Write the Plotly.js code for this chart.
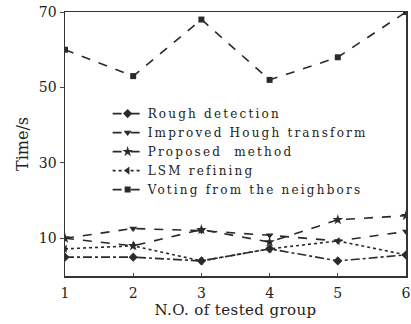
<!DOCTYPE html>
<html>
<head>
<meta charset="utf-8">
<script src="https://cdn.plot.ly/plotly-3.0.1.min.js"></script>
<style>
html,body{margin:0;padding:0;background:#fff;}
#chart{width:411px;height:324px;}
.legendtext{letter-spacing:2.2px;}
.xtitle{letter-spacing:0.4px;}
</style>
</head>
<body>
<div id="chart"></div>
<script>
const groups = [1, 2, 3, 4, 5, 6];
const roughDetection = [5, 5, 4, 7.2, 4, 5.6];
const improvedHough = [10, 12.6, 12, 10.8, 9.3, 11.8];
const proposedMethod = [10, 8, 12.3, 9, 14.9, 16];
const lsmRefining = [7.2, 8, 4, 7.2, 9.3, 5.6];
const votingNeighbors = [60, 53, 68, 52, 58, 70];
const yTickVals = [10, 30, 50, 70];
const seriesNames = ["Rough detection", "Improved Hough transform", "Proposed  method", "LSM refining", "Voting from the neighbors"];

const ink = '#2a2a2a';
function tr(name, y, dash, symbol, size) {
  return {
    x: groups, y: y, name: name, type: 'scatter', mode: 'lines+markers',
    line: {color: ink, width: 1.6, dash: dash},
    marker: {color: ink, symbol: symbol, size: size}
  };
}
const data = [
  tr(seriesNames[0], roughDetection, 'dashdot', 'diamond', 7),
  tr(seriesNames[1], improvedHough, 'dash', 'triangle-down', 7),
  tr(seriesNames[2], proposedMethod, 'dash', 'star', 8),
  tr(seriesNames[3], lsmRefining, 'dot', 'triangle-left', 7),
  tr(seriesNames[4], votingNeighbors, 'dash', 'square', 6)
];
const serif = '"DejaVu Serif", "Liberation Serif", serif';
const layout = {
  width: 411, height: 324,
  margin: {l: 65, r: 5, t: 12, b: 48},
  paper_bgcolor: '#fff', plot_bgcolor: '#fff',
  font: {family: serif, color: '#222', size: 14},
  showlegend: true,
  legend: {x: 0.125, y: 0.67, xanchor: 'left', yanchor: 'top',
           bgcolor: 'rgba(0,0,0,0)', font: {family: serif, size: 12, color: '#222'},
           itemwidth: 30, tracegroupgap: 0},
  xaxis: {range: [1, 6], tickvals: groups, ticks: 'inside', ticklen: 3,
          showline: true, mirror: true, linecolor: '#333', linewidth: 1.5,
          showgrid: false, zeroline: false, ticklabelstandoff: 4,
          tickfont: {family: serif, size: 14, color: '#222'},
          title: {text: 'N.O. of tested group', font: {family: serif, size: 15, color: '#222'}, standoff: 2}},
  yaxis: {range: [0, 70], tickvals: yTickVals, ticks: 'outside', ticklen: 4,
          showline: true, mirror: true, linecolor: '#333', linewidth: 1.5,
          showgrid: false, zeroline: false,
          tickfont: {family: serif, size: 14, color: '#222'},
          title: {text: 'Time/s', font: {family: serif, size: 16, color: '#222'}, standoff: 6}}
};
Plotly.newPlot('chart', data, layout, {displayModeBar: false, staticPlot: true});
</script>
</body>
</html>
